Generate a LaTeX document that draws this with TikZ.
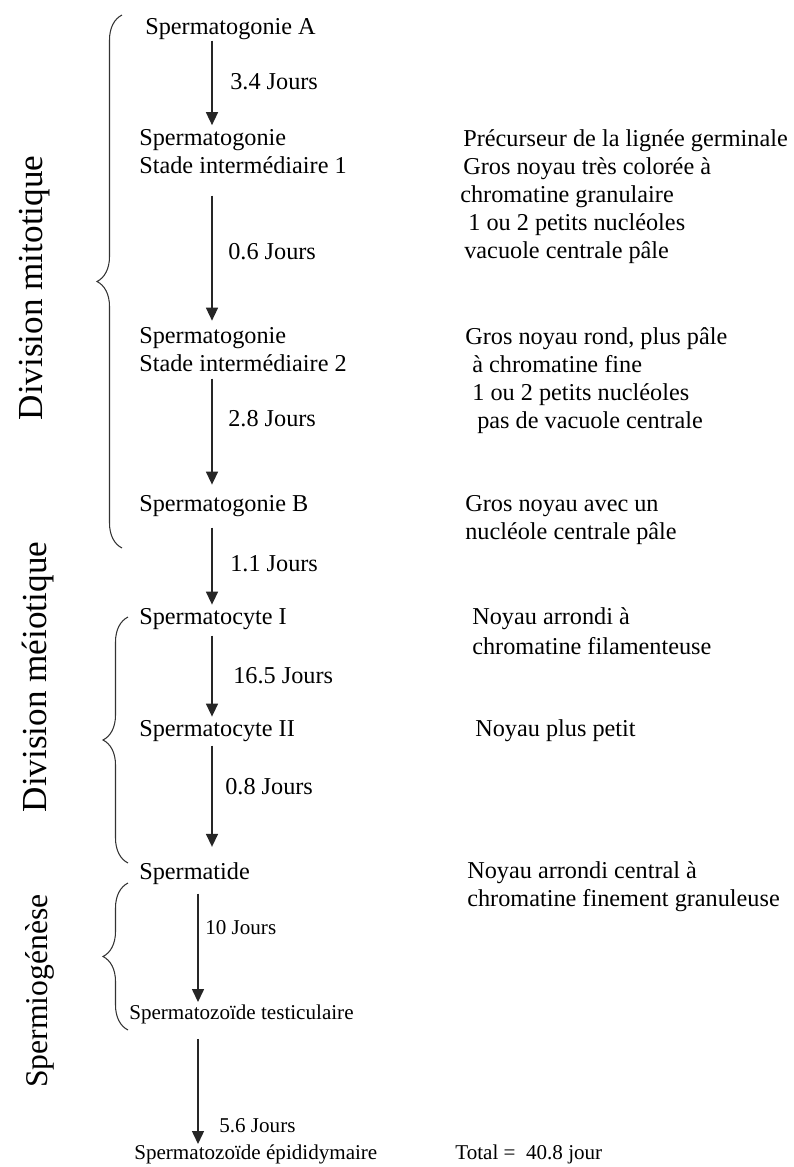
\documentclass[tikz,border=0pt]{standalone}
\usepackage{fontspec}
\setmainfont{Liberation Serif}
\usetikzlibrary{arrows.meta, decorations.pathreplacing}

\begin{document}
\begin{tikzpicture}[x=0.02cm, y=-0.02cm,
    stage/.style={anchor=base west, inner sep=0pt, align=left, font=\fontsize{13.8}{15.9}\selectfont},
    stagesm/.style={stage, font=\fontsize{12}{14}\selectfont},
    note/.style={anchor=base west, inner sep=0pt, align=left, font=\fontsize{13.8}{15.9}\selectfont},
    days/.style={anchor=base west, inner sep=0pt, font=\fontsize{13.8}{15.9}\selectfont},
    dayssm/.style={days, font=\fontsize{12}{14}\selectfont},
    phase/.style={rotate=90, anchor=base, inner sep=0pt, font=\fontsize{20}{24}\selectfont},
    flow/.style={-{Triangle[length=2.6mm, width=2.4mm]}, line width=0.85pt, draw=black!85},
    curly/.style={decorate, decoration={brace, amplitude=0.5cm}, line width=0.6pt, draw=black!80}
]
    \useasboundingbox (0,0) rectangle (794,1167);

    % Stages (multi-line nodes sit on their last baseline)
    \node[stage] (sgA) at (145,34) {Spermatogonie A};
    \node[stage] (sgI1) at (139,173) {Spermatogonie\\Stade intermédiaire 1};
    \node[stage] (sgI2) at (139,371) {Spermatogonie\\Stade intermédiaire 2};
    \node[stage] (sgB) at (139,511) {Spermatogonie B};
    \node[stage] (scI) at (139,624) {Spermatocyte I};
    \node[stage] (scII) at (139,736) {Spermatocyte II};
    \node[stage] (sd) at (139,879) {Spermatide};
    \node[stagesm] (szT) at (129,1019) {Spermatozoïde testiculaire};
    \node[stagesm] (szE) at (134,1159) {Spermatozoïde épididymaire};
    \node[stagesm] (total) at (455,1159) {Total =\ \ 40.8 jour};

    % Durations
    \node[days] (d1) at (230,89) {3.4 Jours};
    \node[days] (d2) at (228,259) {0.6 Jours};
    \node[days] (d3) at (228,426) {2.8 Jours};
    \node[days] (d4) at (230,571) {1.1 Jours};
    \node[days] (d5) at (233,683) {16.5 Jours};
    \node[days] (d6) at (225,794) {0.8 Jours};
    \node[dayssm] (d7) at (205,934) {10 Jours};
    \node[dayssm] (d8) at (219,1132) {5.6 Jours};

    % Descriptions
    \node[note] (n1) at (460,258) {\hspace*{0.06cm}Précurseur de la lignée germinale\\
        \hspace*{0.06cm}Gros noyau très colorée à\\
        chromatine granulaire\\
        \hspace*{0.16cm}1 ou 2 petits nucléoles\\
        \hspace*{0.08cm}vacuole centrale pâle};
    \node[note] (n2) at (465,428) {Gros noyau rond, plus pâle\\
        \hspace*{0.14cm}à chromatine fine\\
        \hspace*{0.14cm}1 ou 2 petits nucléoles\\
        \hspace*{0.24cm}pas de vacuole centrale};
    \node[note] (n3) at (465,539) {Gros noyau avec un\\nucléole centrale pâle};
    \node[note] (n4) at (472,654) {Noyau arrondi à\\[0.04cm]chromatine filamenteuse};
    \node[note] (n5) at (475,736) {Noyau plus petit};
    \node[note] (n6) at (467,906) {Noyau arrondi central à\\chromatine finement granuleuse};

    % Phases
    \node[phase] (ph1) at (42,288) {Division mitotique};
    \node[phase] (ph2) at (47,677) {Division méiotique};
    \node[phase, font=\fontsize{18}{22}\selectfont] (ph3) at (48,991) {Spermiogénèse};
    \draw[curly] (122,548) -- (122,15);
    \draw[curly] (128,863) -- (128,617);
    \draw[curly] (128,1030) -- (128,883);

    % Arrows
    \coordinate (ax) at (212,0);
    \coordinate (bx) at (198,0);
    \draw[flow, shorten <=0.02cm, shorten >=0.07cm] (sgA.south -| ax) -- (sgI1.north -| ax);
    \draw[flow, shorten <=0.44cm, shorten >=0.12cm] (sgI1.south -| ax) -- (sgI2.north -| ax);
    \draw[flow, shorten <=0.14cm, shorten >=0.2cm] (sgI2.south -| ax) -- (sgB.north -| ax);
    \draw[flow, shorten <=0.22cm, shorten >=0.06cm] (sgB.south -| ax) -- (scI.north -| ax);
    \draw[flow, shorten <=0.12cm, shorten >=0.06cm] (scI.south -| ax) -- (scII.north -| ax);
    \draw[flow, shorten <=0.08cm, shorten >=0.3cm] (scII.south -| ax) -- (sd.north -| ax);
    \draw[flow, shorten <=0.18cm, shorten >=0.04cm] (sd.south -| bx) -- (szT.north -| bx);
    \draw[flow, shorten <=0.3cm] (szT.south -| bx) -- (szE.north -| bx);

\end{tikzpicture}
\end{document}
